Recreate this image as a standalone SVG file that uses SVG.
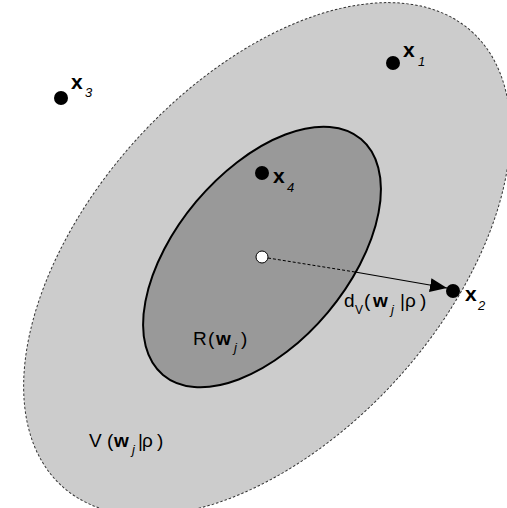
<svg xmlns="http://www.w3.org/2000/svg" width="507" height="508" viewBox="0 0 507 508">
<style>
.outer{fill:#cccccc;stroke:#333;stroke-width:1;stroke-dasharray:2.5 2}
.inner{fill:#999999;stroke:#000;stroke-width:2}
.pt{fill:#000}
.t{font-family:"Liberation Sans",Arial,sans-serif;font-size:19px;fill:#000}
.b{font-family:"Liberation Sans",Arial,sans-serif;font-size:19px;font-weight:bold;fill:#000}
.bx{font-family:"Liberation Sans",Arial,sans-serif;font-size:21px;font-weight:bold;fill:#000}
.s{font-family:"Liberation Sans",Arial,sans-serif;font-size:13px;font-style:italic;fill:#000}
.sv{font-family:"Liberation Sans",Arial,sans-serif;font-size:12px;fill:#000}
</style>
<defs>
<marker id="ah" markerWidth="18" markerHeight="14" refX="17" refY="7" orient="auto" markerUnits="userSpaceOnUse">
<path d="M0,0 L17,7 L0,14 Z" fill="#000"/>
</marker>
</defs>
<g id="V-region">
<ellipse class="outer" cx="267" cy="259" rx="306" ry="177" transform="rotate(-48 267 259)"/>
<text class="t" x="89" y="447">V</text><text class="t" x="107" y="447">(</text><text class="b" x="114" y="447">w</text><text class="s" x="132" y="454">j</text><text class="t" x="138" y="447">|</text><text class="t" x="142" y="447">ρ</text><text class="t" x="157" y="447">)</text>
</g>
<g id="R-region">
<ellipse class="inner" cx="262" cy="257" rx="154" ry="86" transform="rotate(-50 262 257)"/>
<text class="t" x="193" y="345">R</text><text class="t" x="208" y="345">(</text><text class="b" x="216" y="345">w</text><text class="s" x="234" y="352">j</text><text class="t" x="241" y="345">)</text>
</g>
<g id="connectors">
<line x1="268" y1="258" x2="355" y2="272" stroke="#000" stroke-width="1" stroke-dasharray="3 2"/>
<line x1="355" y1="272" x2="447" y2="288" stroke="#000" stroke-width="1.2" marker-end="url(#ah)"/>
<text class="t" x="344" y="307">d</text><text class="sv" x="355" y="314">V</text><text class="t" x="364" y="307">(</text><text class="b" x="373" y="307">w</text><text class="s" x="391" y="314">j</text><text class="t" x="400" y="307">|</text><text class="t" x="405" y="307">ρ</text><text class="t" x="420" y="307">)</text>
</g>
<g id="center">
<circle cx="262" cy="257" r="6" fill="#fff" stroke="#000" stroke-width="1"/>
</g>
<g id="x1">
<circle class="pt" cx="393" cy="63" r="7"/>
<text class="bx" x="403" y="57">x</text><text class="s" x="418" y="66">1</text>
</g>
<g id="x2">
<circle class="pt" cx="453" cy="291" r="7"/>
<text class="bx" x="465" y="301">x</text><text class="s" x="478" y="310">2</text>
</g>
<g id="x3">
<circle class="pt" cx="61" cy="98" r="7"/>
<text class="bx" x="71" y="89">x</text><text class="s" x="85" y="97">3</text>
</g>
<g id="x4">
<circle class="pt" cx="262" cy="173" r="7"/>
<text class="bx" x="273" y="183">x</text><text class="s" x="287" y="192">4</text>
</g>
</svg>
